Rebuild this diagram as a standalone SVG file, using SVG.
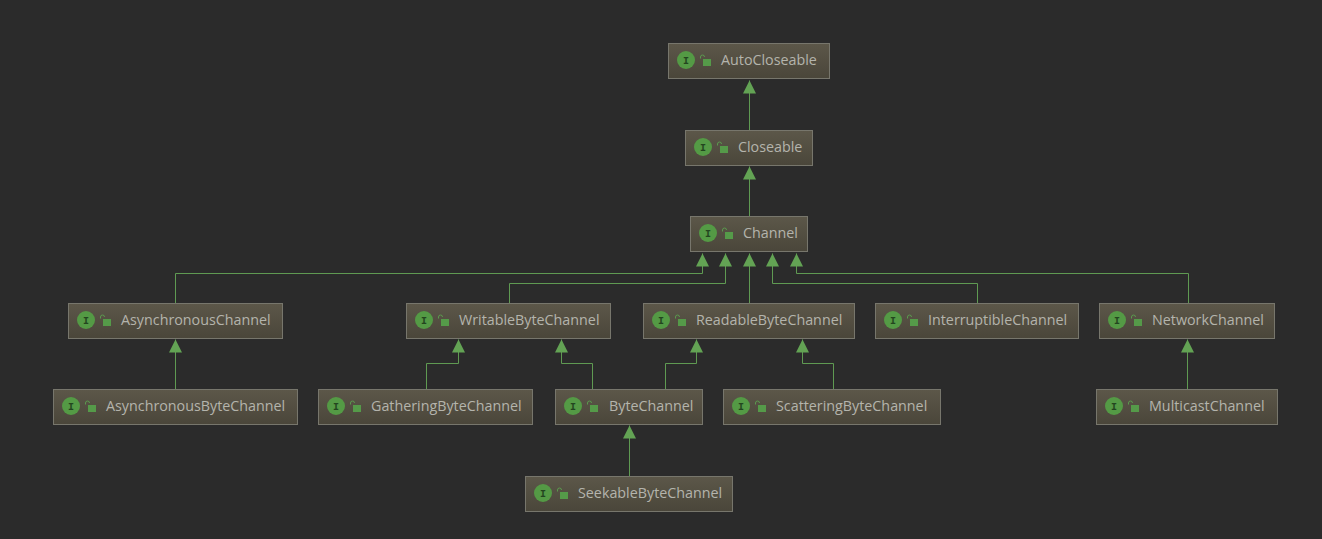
<svg xmlns="http://www.w3.org/2000/svg" width="1322" height="539" viewBox="0 0 1322 539">
<style>
.box{fill:url(#nodeFill);stroke:#77766c;stroke-width:1}
.lbl{font-family:"Open Sans","Noto Sans","Liberation Sans",sans-serif;font-size:14.3px;fill:#b4b4ac}
.iltr{font-family:"Liberation Mono",monospace;font-size:10px;font-weight:bold;fill:#23451f;text-anchor:middle}
.edge{fill:none;stroke:#5f9a52;stroke-width:1;marker-end:url(#tri)}
</style>
<defs>
<linearGradient id="nodeFill" x1="0" y1="0" x2="0" y2="1"><stop offset="0" stop-color="#5c5749"/><stop offset="1" stop-color="#4a463a"/></linearGradient>
<marker id="tri" markerUnits="userSpaceOnUse" markerWidth="14" markerHeight="14" refX="13" refY="6.5" viewBox="0 0 14 14" orient="auto"><path d="M0 0L13 6.500L0 13Z" fill="#63a354"/></marker>
<g id="badge">
<circle cx="0" cy="0" r="9" fill="#549a45"/>
<text class="iltr" x="0" y="3.500">I</text>
<path d="M14.500 -1.500v-1.500a2 2 0 0 1 4 0" fill="none" stroke="#5b9a4e" stroke-width="1"/>
<rect x="17" y="-1" width="8" height="7" fill="#559a49"/>
</g>
</defs>
<rect width="1322" height="539" fill="#2b2b2b"/>
<g id="connectors" transform="translate(0.500 0.500)">
<path class="edge" d="M749 130V80"/>
<path class="edge" d="M749 216V166"/>
<path class="edge" d="M175 303V273H702V253"/>
<path class="edge" d="M509 303V283H725V253"/>
<path class="edge" d="M749 303V253"/>
<path class="edge" d="M977 303V283H772V253"/>
<path class="edge" d="M1188 303V273H796V253"/>
<path class="edge" d="M175 389V339"/>
<path class="edge" d="M426 389V363H458V339"/>
<path class="edge" d="M592 389V363H561V339"/>
<path class="edge" d="M665 389V363H696V339"/>
<path class="edge" d="M833 389V363H802V339"/>
<path class="edge" d="M1187 389V339"/>
<path class="edge" d="M629 476V425"/>
</g>
<g id="AutoCloseable"><rect class="box" x="668.500" y="43.500" width="161" height="35"/><use href="#badge" x="686" y="60"/><text class="lbl" x="721" y="65">AutoCloseable</text></g>
<g id="Closeable"><rect class="box" x="685.500" y="130.500" width="127" height="35"/><use href="#badge" x="703" y="147"/><text class="lbl" x="738" y="152">Closeable</text></g>
<g id="Channel"><rect class="box" x="690.500" y="216.500" width="117" height="35"/><use href="#badge" x="708" y="233"/><text class="lbl" x="743" y="238">Channel</text></g>
<g id="AsynchronousChannel"><rect class="box" x="68.500" y="303.500" width="214" height="35"/><use href="#badge" x="86" y="320"/><text class="lbl" x="121" y="325">AsynchronousChannel</text></g>
<g id="WritableByteChannel"><rect class="box" x="406.500" y="303.500" width="204" height="35"/><use href="#badge" x="424" y="320"/><text class="lbl" x="459" y="325">WritableByteChannel</text></g>
<g id="ReadableByteChannel"><rect class="box" x="643.500" y="303.500" width="211" height="35"/><use href="#badge" x="661" y="320"/><text class="lbl" x="696" y="325">ReadableByteChannel</text></g>
<g id="InterruptibleChannel"><rect class="box" x="875.500" y="303.500" width="203" height="35"/><use href="#badge" x="893" y="320"/><text class="lbl" x="928" y="325">InterruptibleChannel</text></g>
<g id="NetworkChannel"><rect class="box" x="1099.500" y="303.500" width="175" height="35"/><use href="#badge" x="1117" y="320"/><text class="lbl" x="1152" y="325">NetworkChannel</text></g>
<g id="AsynchronousByteChannel"><rect class="box" x="53.500" y="389.500" width="244" height="35"/><use href="#badge" x="71" y="406"/><text class="lbl" x="106" y="411">AsynchronousByteChannel</text></g>
<g id="GatheringByteChannel"><rect class="box" x="318.500" y="389.500" width="214" height="35"/><use href="#badge" x="336" y="406"/><text class="lbl" x="371" y="411">GatheringByteChannel</text></g>
<g id="ByteChannel"><rect class="box" x="555.500" y="389.500" width="147" height="35"/><use href="#badge" x="573" y="406"/><text class="lbl" x="609" y="411">ByteChannel</text></g>
<g id="ScatteringByteChannel"><rect class="box" x="723.500" y="389.500" width="217" height="35"/><use href="#badge" x="741" y="406"/><text class="lbl" x="776" y="411">ScatteringByteChannel</text></g>
<g id="MulticastChannel"><rect class="box" x="1096.500" y="389.500" width="181" height="35"/><use href="#badge" x="1114" y="406"/><text class="lbl" x="1149" y="411">MulticastChannel</text></g>
<g id="SeekableByteChannel"><rect class="box" x="525.500" y="476.500" width="207" height="35"/><use href="#badge" x="543" y="493"/><text class="lbl" x="578" y="498">SeekableByteChannel</text></g>
</svg>
